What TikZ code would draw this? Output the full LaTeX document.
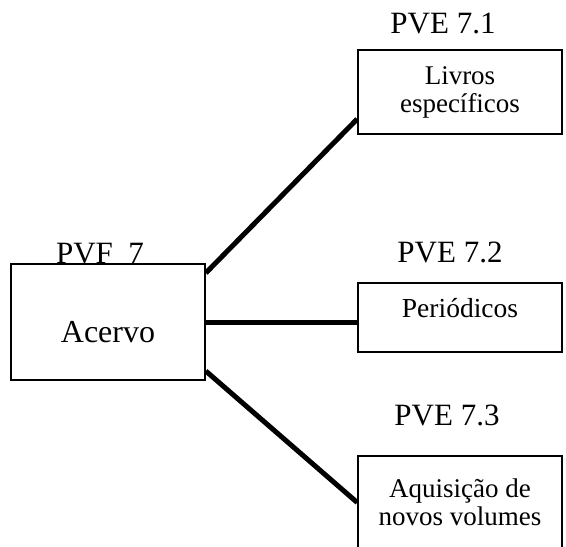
\documentclass[tikz,border=0pt]{standalone}
\usepackage{fontspec}
\setmainfont{Liberation Serif}
\usepackage{tikz}

\begin{document}
\begin{tikzpicture}[x=1pt, y=-1pt,
    caixa/.style={draw, line width=1.6pt, rectangle, inner sep=0pt},
    rotulo/.style={anchor=base, font=\fontsize{31}{33}\selectfont},
    ligacao/.style={line width=5pt}]

    \useasboundingbox (0,0) rectangle (566,547);

    \node[caixa, minimum width=194pt, minimum height=116pt,
        text height=40pt, text depth=0pt, font=\fontsize{32}{34}\selectfont]
        (acervo) at (108,322) {Acervo};

    \node[caixa, minimum width=204pt, minimum height=84pt, align=center,
        font=\fontsize{27}{28}\selectfont]
        (livros) at (460,92) {Livros\\espec\'{\i}ficos};

    \node[caixa, minimum width=204pt, minimum height=69pt,
        text height=19pt, text depth=19pt, font=\fontsize{27.5}{29}\selectfont]
        (periodicos) at (460,317.5) {Peri\'odicos};

    \node[caixa, minimum width=204pt, minimum height=93pt, align=center,
        font=\fontsize{27}{28}\selectfont]
        (aquisicao) at (460,502.5) {Aquisi\c{c}\~ao de\\novos volumes};

    \node[rotulo] (pvf) at (100,263) {PVF\ \ 7};
    \node[rotulo] (pve1) at (443,33) {PVE 7.1};
    \node[rotulo] (pve2) at (450,262) {PVE 7.2};
    \node[rotulo] (pve3) at (447,425) {PVE 7.3};

    \draw[ligacao] ([yshift=49pt]acervo.east) -- ([yshift=-27pt]livros.west);
    \draw[ligacao] (acervo.east) -- (acervo.east -| periodicos.west);
    \draw[ligacao] ([yshift=-49pt]acervo.east) -- (aquisicao.west);

\end{tikzpicture}
\end{document}
